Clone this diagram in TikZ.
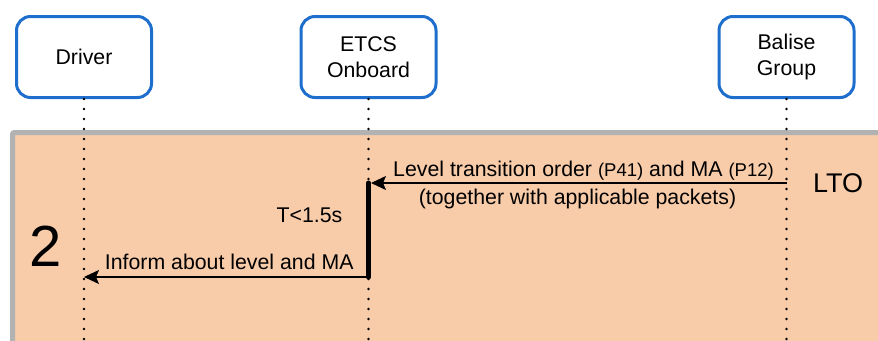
\documentclass[tikz,border=0pt]{standalone}
\usepackage{fontspec}
\setmainfont{Liberation Sans}
\usetikzlibrary{arrows.meta}
\definecolor{boxblue}{RGB}{30,110,205}
\definecolor{phasefill}{RGB}{248,203,169}
\definecolor{phaseframe}{RGB}{178,178,178}
\newcommand{\pkt}[1]{{\fontsize{18.5}{20}\selectfont #1}}
\tikzstyle{actor} = [rectangle, rounded corners=14pt, minimum width=135pt, minimum height=81pt, align=center, draw=boxblue, line width=3pt, fill=white, font=\fontsize{21.3}{25.7}\selectfont]
\tikzstyle{lifeline} = [line width=2.6pt, line cap=round, dash pattern=on 0pt off 10pt]
\tikzstyle{msg} = [line width=1.5pt, -{Stealth[length=15pt,width=14pt,inset=3pt]}]
\tikzstyle{msgtext} = [inner sep=0pt, font=\fontsize{21.3}{25}\selectfont]
\tikzstyle{active} = [line width=5pt, line cap=round]

\begin{document}
\begin{tikzpicture}[x=1pt, y=-1pt]
        \useasboundingbox (0,0) rectangle (878,340);
        \clip (0,0) rectangle (878,340);

        % Fase 2: fundo
        \draw [fill=phasefill, draw=phaseframe, line width=5pt, rounded corners=2pt] (12.5,132.5) rectangle (900,360);

        % Atores
        \node (drv) [actor] at (84,57) {Driver};
        \node (obu) [actor] at (368.5,57) {ETCS\\Onboard};
        \node (bal) [actor] at (786.5,57) {Balise\\Group};

        % Linhas de vida
        \coordinate (drv-end) at (drv |- 0,340);
        \coordinate (obu-end) at (obu |- 0,340);
        \coordinate (bal-end) at (bal |- 0,340);
        \draw [lifeline] (drv.south) -- (drv-end);
        \draw [lifeline] (obu.south) -- (obu-end);
        \draw [lifeline] (bal.south) -- (bal-end);

        % Pontos das mensagens
        \coordinate (bal-lto) at (bal |- 0,183);
        \coordinate (obu-lto) at (obu |- 0,183);
        \coordinate (obu-inf) at (obu |- 0,277);
        \coordinate (drv-inf) at (drv |- 0,277);

        % Ativação do ETCS Onboard
        \draw [active] (obu-lto) -- (obu-inf);
        \node (tlimit) [msgtext, anchor=base] at (309.5,222) {T<1.5s};

        % Mensagens
        \draw [msg, shorten >=2.5pt] (bal-lto) -- node[msgtext, above=2pt, xshift=6pt] {Level transition order \pkt{(P41)} and MA \pkt{(P12)}} node[msgtext, below=5pt] {(together with applicable packets)} (obu-lto);
        \draw [msg] (obu-inf) -- node[msgtext, above=7pt, xshift=3pt] {Inform about level and MA} (drv-inf);

        % Rótulos da fase
        \node (phase) [anchor=base, inner sep=0pt, font=\fontsize{58}{60}\selectfont] at (45.5,266) {2};
        \node (lto) [anchor=base, inner sep=0pt, font=\fontsize{27}{30}\selectfont] at (838,192) {LTO};

    \end{tikzpicture}
\end{document}
